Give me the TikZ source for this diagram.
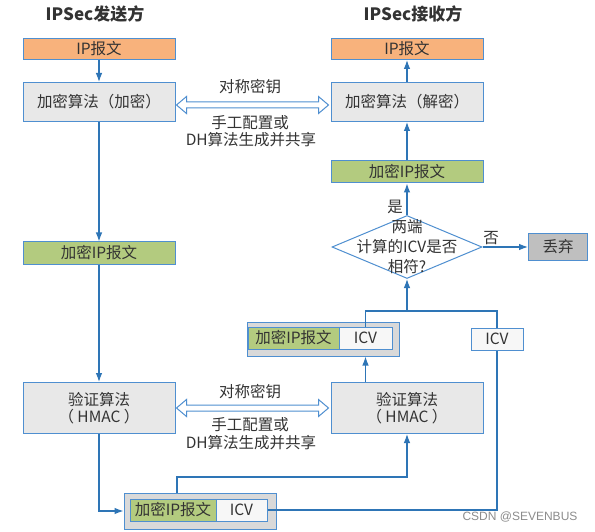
\documentclass[tikz,border=0pt]{standalone}
\usepackage{fontspec}
\setmainfont{Noto Sans CJK SC}
\newfontfamily\wmfont{Liberation Sans}
\usetikzlibrary{shapes.geometric,arrows.meta,calc}
\definecolor{bdr}{HTML}{4F8FD0}
\definecolor{lnc}{HTML}{2E75B6}
\definecolor{orangeF}{HTML}{F8B27C}
\definecolor{greenF}{HTML}{B3CB7F}
\definecolor{grayF}{HTML}{E8E8E8}
\definecolor{grayO}{HTML}{D9D9D9}
\definecolor{grayD}{HTML}{BFBFBF}
\definecolor{txt}{HTML}{333333}
\begin{document}
\begin{tikzpicture}[x=1pt,y=-1pt,
  every node/.style={text=txt, font=\fontsize{15.5}{17}\selectfont, inner sep=0pt},
  box/.style={draw=bdr, line width=1pt, rectangle, align=center},
  orbox/.style={box, fill=orangeF, minimum width=152, minimum height=21},
  grbox/.style={box, fill=greenF, minimum height=22},
  gybox/.style={box, fill=grayF, minimum width=152},
  icvbox/.style={box, fill=white!97!black, minimum height=22},
  conn/.style={draw=lnc, line width=1.1pt, -{Latex[length=9pt,width=6.5pt]}},
  plain/.style={draw=lnc, line width=1.1pt},
  dblarr/.style={draw=bdr, fill=white, line width=1pt, line join=miter},
  ttl/.style={font=\fontsize{17}{20}\selectfont\bfseries},
  lbl/.style={}
]
\fill[white] (0,0) rectangle (595,532);
\useasboundingbox (0,0) rectangle (595,532);

% titles
\node[ttl] (tL) at (95,14) {IPSec发送方};
\node[ttl] (tR) at (413,14) {IPSec接收方};

% left column
\node[orbox] (ipL) at (99,49) {IP报文};
\node[gybox, minimum height=39] (encL) at (99,102) {加密算法（加密）};
\node[grbox, minimum width=152] (grL) at (99,253) {加密IP报文};
\node[gybox, minimum height=51] (verL) at (99,408) {验证算法\\（ HMAC ）};

% bottom combined packet
\node[box, fill=grayO, minimum width=152, minimum height=36] (botOuter) at (200,511) {};
\node[grbox, minimum width=86] (botGreen) at (173,510) {加密IP报文};
\node[icvbox, minimum width=51] (botICV) at (241.5,510) {ICV};

% right column
\node[orbox] (ipR) at (407,49) {IP报文};
\node[gybox, minimum height=39] (decR) at (407,102) {加密算法（解密）};
\node[grbox, minimum width=152] (grR) at (407,172) {加密IP报文};
\node[diamond, draw=bdr, line width=1pt, fill=white, minimum width=150, minimum height=63] (dia) at (407,247) {};
\node[align=center, font=\fontsize{15.5}{20}\selectfont] (diaT) at (407,247) {两端\\计算的ICV是否\\相符?};
\node[box, fill=grayD, minimum width=59, minimum height=26] (drop) at (558,247) {丢弃};

% middle combined packet
\node[box, fill=grayO, minimum width=152, minimum height=34] (midOuter) at (323,339) {};
\node[grbox, minimum width=91] (midGreen) at (293.5,338) {加密IP报文};
\node[icvbox, minimum width=53] (midICV) at (365.5,338) {ICV};
\node[icvbox, minimum width=52] (icvR) at (497,339) {ICV};
\node[gybox, minimum height=51] (verR) at (407,408) {验证算法\\（ HMAC ）};

% left connectors
\draw[conn] (ipL) -- (encL);
\draw[conn] (encL) -- (grL);
\draw[conn] (grL) -- (verL);
\draw[conn] (verL.south) |- (botOuter.west);

% bottom to right verify
\coordinate (j1) at (177,477);
\draw[conn] (j1 |- botOuter.north) -- (j1) -| (verR.south);
\draw[plain] (botICV.east) -| (icvR.south);

% right connectors
\coordinate (j2) at (407,311);
\draw[plain] (icvR.north) |- (j2) -| (midICV.north);
\draw[conn] (j2) -- (dia.south);
\draw[conn] (midICV.center |- verR.north) -- (midICV.center |- midOuter.south);
\draw[conn] (dia.north) -- (grR.south);
\draw[conn] (dia.east) -- (drop.west);
\draw[conn] (grR) -- (decR);
\draw[conn] (decR) -- (ipR);
\node (yes) at (395,207) {是};
\node (no) at (491,238) {否};

% key exchange arrows
\path ($(encL.east)+(1,3)$) coordinate (k1a) ($(decR.west)+(-2,3)$) coordinate (k1b);
\draw[dblarr] (k1a) -- ++(10,-8.5) -- ++(0,5.5) -- ($(k1b)+(-10,-3)$) -- ++(0,-5.5) -- (k1b) -- ++(-10,8.5) -- ++(0,-5.5) -- ($(k1a)+(10,3)$) -- ++(0,5.5) -- cycle;
\node (k1t) at (250,87) {对称密钥};
\node (k1m) at (250,123) {手工配置或};
\node (k1d) at (251,140) {DH算法生成并共享};

\path ($(verL.east)+(1,0)$) coordinate (k2a) ($(verR.west)+(-2,0)$) coordinate (k2b);
\draw[dblarr] (k2a) -- ++(10,-8.5) -- ++(0,5.5) -- ($(k2b)+(-10,-3)$) -- ++(0,-5.5) -- (k2b) -- ++(-10,8.5) -- ++(0,-5.5) -- ($(k2a)+(10,3)$) -- ++(0,5.5) -- cycle;
\node (k2t) at (250,391.5) {对称密钥};
\node (k2m) at (250,425) {手工配置或};
\node (k2d) at (251,443) {DH算法生成并共享};

% watermark
\node[font=\wmfont\fontsize{12}{14}\selectfont, text=black!45] (wm) at (520,517) {CSDN @SEVENBUS};
\end{tikzpicture}
\end{document}
